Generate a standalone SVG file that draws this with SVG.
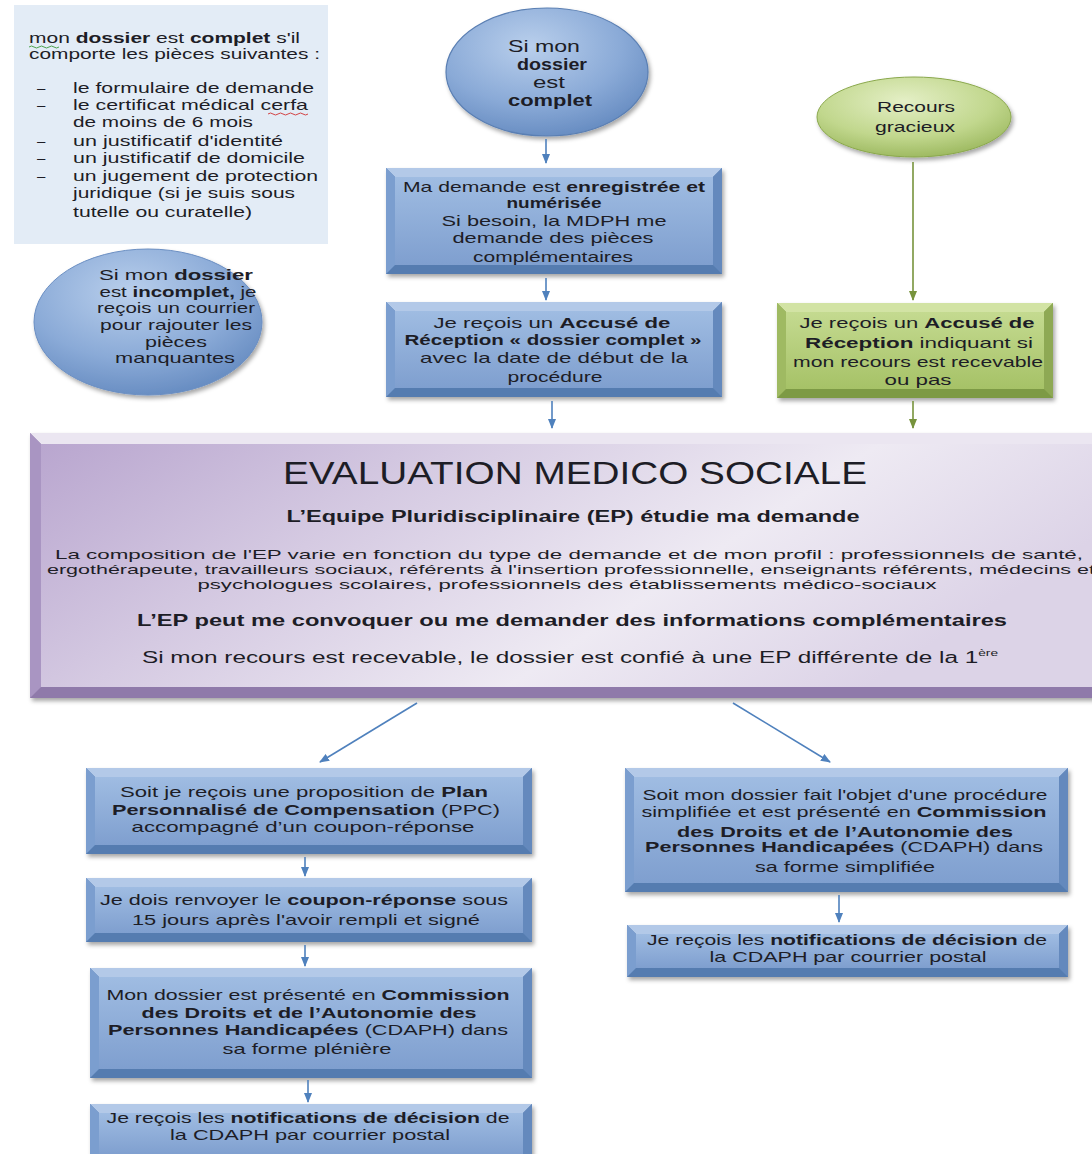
<svg xmlns="http://www.w3.org/2000/svg" width="1092" height="1154" viewBox="0 0 1092 1154">
<style>
.t{font-family:"Liberation Sans",Arial,sans-serif;font-size:15px;fill:#1d1d26}
.c{text-anchor:middle}
.b{font-weight:bold}
.bo{fill:#557bb0}.bt{fill:#b3c9e8}.bl{fill:#7b9ecf}.br{fill:#6489bd}.bi{fill:url(#gBlue)}
.go{fill:#7d9a45}.gt{fill:#d2e3a4}.gl{fill:#9fba62}.gr{fill:#8ea954}.gi{fill:url(#gGreen)}
.po{fill:#8f7aaa}.pt{fill:#ebe6f1}.pl{fill:#a995c2}.pr{fill:#bcaed0}.pi{fill:url(#gPurple)}
.cb{stroke:#4f81bd;stroke-width:1.6;fill:none;marker-end:url(#ab)}
.cg{stroke:#77933c;stroke-width:1.6;fill:none;marker-end:url(#ag)}
</style>
<defs>
<linearGradient id="gBlue" x1="0" y1="0" x2="0" y2="1"><stop offset="0" stop-color="#9fbce2"/><stop offset="1" stop-color="#7f9fcf"/></linearGradient>
<linearGradient id="gGreen" x1="0" y1="0" x2="0" y2="1"><stop offset="0" stop-color="#c4da90"/><stop offset="1" stop-color="#a6c267"/></linearGradient>
<linearGradient id="gPurple" x1="0" y1="0" x2="1" y2="0.35"><stop offset="0" stop-color="#b9a6cf"/><stop offset="0.35" stop-color="#d5cae2"/><stop offset="0.7" stop-color="#eeeaf3"/><stop offset="1" stop-color="#dcd3e7"/></linearGradient>
<radialGradient id="gEllB" cx="0.42" cy="0.3" r="0.75"><stop offset="0" stop-color="#b9cfec"/><stop offset="0.6" stop-color="#8aaad7"/><stop offset="1" stop-color="#6389bf"/></radialGradient>
<radialGradient id="gEllG" cx="0.45" cy="0.3" r="0.75"><stop offset="0" stop-color="#e4efc6"/><stop offset="0.6" stop-color="#c1d78d"/><stop offset="1" stop-color="#98b55a"/></radialGradient>
<filter id="sh" x="-5%" y="-10%" width="115%" height="130%"><feDropShadow dx="2" dy="3" stdDeviation="2" flood-color="#000" flood-opacity="0.35"/></filter>
<marker id="ab" markerWidth="10" markerHeight="8" refX="9" refY="4" orient="auto" markerUnits="userSpaceOnUse"><path d="M0,0 L10,4 L0,8 z" fill="#4f81bd"/></marker>
<marker id="ag" markerWidth="10" markerHeight="8" refX="9" refY="4" orient="auto" markerUnits="userSpaceOnUse"><path d="M0,0 L10,4 L0,8 z" fill="#77933c"/></marker>
</defs>
<rect width="1092" height="1154" fill="#ffffff"/>

<g id="piecesPanel">
<rect x="14" y="5" width="314" height="239" fill="#e3ecf6"/>
<text class="t" x="29" y="43" textLength="271" lengthAdjust="spacingAndGlyphs">mon <tspan class="b">dossier</tspan> est <tspan class="b">complet</tspan> s'il</text>
<path d="M29,47 q2.5,-2 5,0 t5,0 t5,0 t5,0 t5,0 t5,0" fill="none" stroke="#3a9a3a" stroke-width="0.9"/>
<text class="t" x="29" y="59" textLength="291" lengthAdjust="spacingAndGlyphs">comporte les pièces suivantes :</text>
<text class="t" x="37" y="93">–</text>
<text class="t" x="73" y="93" textLength="241" lengthAdjust="spacingAndGlyphs">le formulaire de demande</text>
<text class="t" x="37" y="110">–</text>
<text class="t" x="73" y="110" textLength="235" lengthAdjust="spacingAndGlyphs">le certificat médical cerfa</text>
<path d="M268,114 q2.5,-2 5,0 t5,0 t5,0 t5,0 t5,0 t5,0 t5,0 t5,0" fill="none" stroke="#d03030" stroke-width="0.9"/>
<text class="t" x="73" y="127" textLength="180" lengthAdjust="spacingAndGlyphs">de moins de 6 mois</text>
<text class="t" x="37" y="146">–</text>
<text class="t" x="73" y="146" textLength="210" lengthAdjust="spacingAndGlyphs">un justificatif d'identité</text>
<text class="t" x="37" y="163">–</text>
<text class="t" x="73" y="163" textLength="232" lengthAdjust="spacingAndGlyphs">un justificatif de domicile</text>
<text class="t" x="37" y="181">–</text>
<text class="t" x="73" y="181" textLength="245" lengthAdjust="spacingAndGlyphs">un jugement de protection</text>
<text class="t" x="73" y="198" textLength="222" lengthAdjust="spacingAndGlyphs">juridique (si je suis sous</text>
<text class="t" x="73" y="217" textLength="179" lengthAdjust="spacingAndGlyphs">tutelle ou curatelle)</text>
</g>

<g id="dossierComplet">
<ellipse cx="547" cy="72" rx="101" ry="64" fill="url(#gEllB)" stroke="#5a7fb3" stroke-width="1.2" filter="url(#sh)"/>
<text class="t c" x="544" y="52" style="font-size:17px" textLength="72" lengthAdjust="spacingAndGlyphs">Si mon</text>
<text class="t c b" x="552" y="70" style="font-size:17px" textLength="70" lengthAdjust="spacingAndGlyphs">dossier</text>
<text class="t c" x="549" y="88" style="font-size:17px" textLength="32" lengthAdjust="spacingAndGlyphs">est</text>
<text class="t c b" x="550" y="106" style="font-size:17px" textLength="84" lengthAdjust="spacingAndGlyphs">complet</text>
</g>

<g id="dossierIncomplet">
<ellipse cx="148" cy="322" rx="114" ry="73" fill="url(#gEllB)" stroke="#6a8ec2" stroke-width="1" filter="url(#sh)"/>
<text class="t c" x="176" y="280" textLength="154" lengthAdjust="spacingAndGlyphs">Si mon <tspan class="b">dossier</tspan></text>
<text class="t c" x="178" y="297" textLength="157" lengthAdjust="spacingAndGlyphs">est <tspan class="b">incomplet,</tspan> je</text>
<text class="t c" x="176" y="313" textLength="158" lengthAdjust="spacingAndGlyphs">reçois un courrier</text>
<text class="t c" x="176" y="330" textLength="152" lengthAdjust="spacingAndGlyphs">pour rajouter les</text>
<text class="t c" x="176" y="347" textLength="62" lengthAdjust="spacingAndGlyphs">pièces</text>
<text class="t c" x="175" y="363" textLength="120" lengthAdjust="spacingAndGlyphs">manquantes</text>
</g>

<g id="recoursGracieux">
<ellipse cx="914" cy="117" rx="97" ry="40" fill="url(#gEllG)" stroke="#8aa84c" stroke-width="1" filter="url(#sh)"/>
<text class="t c" x="916" y="112" textLength="78" lengthAdjust="spacingAndGlyphs">Recours</text>
<text class="t c" x="915" y="132" textLength="80" lengthAdjust="spacingAndGlyphs">gracieux</text>
</g>

<g id="demandeEnregistree">
<rect class="bo" x="386" y="168" width="336" height="106" filter="url(#sh)"/>
<polygon class="bt" points="386,168 722,168 713,177 395,177"/>
<polygon class="bl" points="386,168 395,177 395,265 386,274"/>
<polygon class="br" points="722,168 722,274 713,265 713,177"/>
<rect class="bi" x="395" y="177" width="318" height="88"/>
<text class="t c" x="554" y="192" textLength="302" lengthAdjust="spacingAndGlyphs">Ma demande est <tspan class="b">enregistrée et</tspan></text>
<text class="t c b" x="554" y="208" textLength="95" lengthAdjust="spacingAndGlyphs">numérisée</text>
<text class="t c" x="554" y="226" textLength="225" lengthAdjust="spacingAndGlyphs">Si besoin, la MDPH me</text>
<text class="t c" x="553" y="243" textLength="201" lengthAdjust="spacingAndGlyphs">demande des pièces</text>
<text class="t c" x="553" y="262" textLength="160" lengthAdjust="spacingAndGlyphs">complémentaires</text>
</g>

<g id="accuseComplet">
<rect class="bo" x="386" y="302" width="336" height="95" filter="url(#sh)"/>
<polygon class="bt" points="386,302 722,302 713,311 395,311"/>
<polygon class="bl" points="386,302 395,311 395,388 386,397"/>
<polygon class="br" points="722,302 722,397 713,388 713,311"/>
<rect class="bi" x="395" y="311" width="318" height="77"/>
<text class="t c" x="552" y="328" textLength="237" lengthAdjust="spacingAndGlyphs">Je reçois un <tspan class="b">Accusé de</tspan></text>
<text class="t c b" x="553" y="345" textLength="297" lengthAdjust="spacingAndGlyphs">Réception « dossier complet »</text>
<text class="t c" x="554" y="363" textLength="268" lengthAdjust="spacingAndGlyphs">avec la date de début de la</text>
<text class="t c" x="555" y="382" textLength="95" lengthAdjust="spacingAndGlyphs">procédure</text>
</g>

<g id="accuseRecours">
<rect class="go" x="777" y="303" width="276" height="95" filter="url(#sh)"/>
<polygon class="gt" points="777,303 1053,303 1044,312 786,312"/>
<polygon class="gl" points="777,303 786,312 786,389 777,398"/>
<polygon class="gr" points="1053,303 1053,398 1044,389 1044,312"/>
<rect class="gi" x="786" y="312" width="258" height="77"/>
<text class="t c" x="917" y="328" textLength="235" lengthAdjust="spacingAndGlyphs">Je reçois un <tspan class="b">Accusé de</tspan></text>
<text class="t c" x="919" y="348" textLength="228" lengthAdjust="spacingAndGlyphs"><tspan class="b">Réception</tspan> indiquant si</text>
<text class="t c" x="918" y="367" textLength="250" lengthAdjust="spacingAndGlyphs">mon recours est recevable</text>
<text class="t c" x="918" y="385" textLength="67" lengthAdjust="spacingAndGlyphs">ou pas</text>
</g>

<g id="evaluation">
<rect class="po" x="30" y="433" width="1090" height="265" filter="url(#sh)"/>
<polygon class="pt" points="30,433 1120,433 1109,444 41,444"/>
<polygon class="pl" points="30,433 41,444 41,687 30,698"/>
<polygon class="pr" points="1120,433 1120,698 1109,687 1109,444"/>
<rect class="pi" x="41" y="444" width="1068" height="243"/>
<text class="t c" x="575" y="484" style="font-size:31px" textLength="584" lengthAdjust="spacingAndGlyphs">EVALUATION MEDICO SOCIALE</text>
<text class="t c b" x="573" y="522" style="font-size:16px" textLength="573" lengthAdjust="spacingAndGlyphs">L’Equipe Pluridisciplinaire (EP) étudie ma demande</text>
<text class="t c" x="569" y="559" style="font-size:13.5px" textLength="1028" lengthAdjust="spacingAndGlyphs">La composition de l'EP varie en fonction du type de demande et de mon profil : professionnels de santé,</text>
<text class="t c" x="571" y="574" style="font-size:13.5px" textLength="1048" lengthAdjust="spacingAndGlyphs">ergothérapeute, travailleurs sociaux, référents à l'insertion professionnelle, enseignants référents, médecins et</text>
<text class="t c" x="567" y="589" style="font-size:13.5px" textLength="739" lengthAdjust="spacingAndGlyphs">psychologues scolaires, professionnels des établissements médico-sociaux</text>
<text class="t c b" x="572" y="626" style="font-size:17px" textLength="870" lengthAdjust="spacingAndGlyphs">L’EP peut me convoquer ou me demander des informations complémentaires</text>
<text class="t c" x="570" y="663" style="font-size:16px" textLength="856" lengthAdjust="spacingAndGlyphs">Si mon recours est recevable, le dossier est confié à une EP différente de la 1<tspan dy="-7" font-size="9">ère</tspan></text>
</g>

<g id="propositionPPC">
<rect class="bo" x="86" y="768" width="446" height="86" filter="url(#sh)"/>
<polygon class="bt" points="86,768 532,768 523,777 95,777"/>
<polygon class="bl" points="86,768 95,777 95,845 86,854"/>
<polygon class="br" points="532,768 532,854 523,845 523,777"/>
<rect class="bi" x="95" y="777" width="428" height="68"/>
<text class="t c" x="304" y="797" textLength="368" lengthAdjust="spacingAndGlyphs">Soit je reçois une proposition de <tspan class="b">Plan</tspan></text>
<text class="t c" x="306" y="815" textLength="388" lengthAdjust="spacingAndGlyphs"><tspan class="b">Personnalisé de Compensation</tspan> (PPC)</text>
<text class="t c" x="303" y="832" textLength="343" lengthAdjust="spacingAndGlyphs">accompagné d’un coupon-réponse</text>
</g>

<g id="renvoiCoupon">
<rect class="bo" x="86" y="878" width="446" height="64" filter="url(#sh)"/>
<polygon class="bt" points="86,878 532,878 523,887 95,887"/>
<polygon class="bl" points="86,878 95,887 95,933 86,942"/>
<polygon class="br" points="532,878 532,942 523,933 523,887"/>
<rect class="bi" x="95" y="887" width="428" height="46"/>
<text class="t c" x="304" y="905" textLength="408" lengthAdjust="spacingAndGlyphs">Je dois renvoyer le <tspan class="b">coupon-réponse</tspan> sous</text>
<text class="t c" x="306" y="925" textLength="348" lengthAdjust="spacingAndGlyphs">15 jours après l'avoir rempli et signé</text>
</g>

<g id="cdaphPleniere">
<rect class="bo" x="90" y="968" width="442" height="110" filter="url(#sh)"/>
<polygon class="bt" points="90,968 532,968 523,977 99,977"/>
<polygon class="bl" points="90,968 99,977 99,1069 90,1078"/>
<polygon class="br" points="532,968 532,1078 523,1069 523,977"/>
<rect class="bi" x="99" y="977" width="424" height="92"/>
<text class="t c" x="308" y="1000" textLength="403" lengthAdjust="spacingAndGlyphs">Mon dossier est présenté en <tspan class="b">Commission</tspan></text>
<text class="t c b" x="309" y="1018" textLength="335" lengthAdjust="spacingAndGlyphs">des Droits et de l’Autonomie des</text>
<text class="t c" x="308" y="1035" textLength="400" lengthAdjust="spacingAndGlyphs"><tspan class="b">Personnes Handicapées</tspan> (CDAPH) dans</text>
<text class="t c" x="307" y="1054" textLength="169" lengthAdjust="spacingAndGlyphs">sa forme plénière</text>
</g>

<g id="notificationsGauche">
<rect class="bo" x="90" y="1104" width="442" height="60" filter="url(#sh)"/>
<polygon class="bt" points="90,1104 532,1104 523,1113 99,1113"/>
<polygon class="bl" points="90,1104 99,1113 99,1155 90,1164"/>
<polygon class="br" points="532,1104 532,1164 523,1155 523,1113"/>
<rect class="bi" x="99" y="1113" width="424" height="42"/>
<text class="t c" x="308" y="1123" textLength="403" lengthAdjust="spacingAndGlyphs">Je reçois les <tspan class="b">notifications de décision</tspan> de</text>
<text class="t c" x="310" y="1140" textLength="280" lengthAdjust="spacingAndGlyphs">la CDAPH par courrier postal</text>
</g>

<g id="procedureSimplifiee">
<rect class="bo" x="625" y="768" width="443" height="124" filter="url(#sh)"/>
<polygon class="bt" points="625,768 1068,768 1059,777 634,777"/>
<polygon class="bl" points="625,768 634,777 634,883 625,892"/>
<polygon class="br" points="1068,768 1068,892 1059,883 1059,777"/>
<rect class="bi" x="634" y="777" width="425" height="106"/>
<text class="t c" x="845" y="800" textLength="405" lengthAdjust="spacingAndGlyphs">Soit mon dossier fait l'objet d'une procédure</text>
<text class="t c" x="844" y="817" textLength="405" lengthAdjust="spacingAndGlyphs">simplifiée et est présenté en <tspan class="b">Commission</tspan></text>
<text class="t c b" x="845" y="837" textLength="336" lengthAdjust="spacingAndGlyphs">des Droits et de l’Autonomie des</text>
<text class="t c" x="844" y="852" textLength="398" lengthAdjust="spacingAndGlyphs"><tspan class="b">Personnes Handicapées</tspan> (CDAPH) dans</text>
<text class="t c" x="845" y="872" textLength="180" lengthAdjust="spacingAndGlyphs">sa forme simplifiée</text>
</g>

<g id="notificationsDroite">
<rect class="bo" x="627" y="925" width="441" height="52" filter="url(#sh)"/>
<polygon class="bt" points="627,925 1068,925 1059,934 636,934"/>
<polygon class="bl" points="627,925 636,934 636,968 627,977"/>
<polygon class="br" points="1068,925 1068,977 1059,968 1059,934"/>
<rect class="bi" x="636" y="934" width="423" height="34"/>
<text class="t c" x="847" y="945" textLength="400" lengthAdjust="spacingAndGlyphs">Je reçois les <tspan class="b">notifications de décision</tspan> de</text>
<text class="t c" x="848" y="962" textLength="277" lengthAdjust="spacingAndGlyphs">la CDAPH par courrier postal</text>
</g>

<g id="connectors">
<line class="cb" x1="546" y1="139" x2="546" y2="163"/>
<line class="cb" x1="546" y1="278" x2="546" y2="300"/>
<line class="cb" x1="552" y1="401" x2="552" y2="428"/>
<line class="cg" x1="913" y1="162" x2="913" y2="300"/>
<line class="cg" x1="913" y1="401" x2="913" y2="428"/>
<line class="cb" x1="417" y1="703" x2="320" y2="762"/>
<line class="cb" x1="733" y1="703" x2="830" y2="762"/>
<line class="cb" x1="305" y1="857" x2="305" y2="876"/>
<line class="cb" x1="305" y1="945" x2="305" y2="966"/>
<line class="cb" x1="308" y1="1080" x2="308" y2="1102"/>
<line class="cb" x1="839" y1="895" x2="839" y2="922"/>
</g>
</svg>
